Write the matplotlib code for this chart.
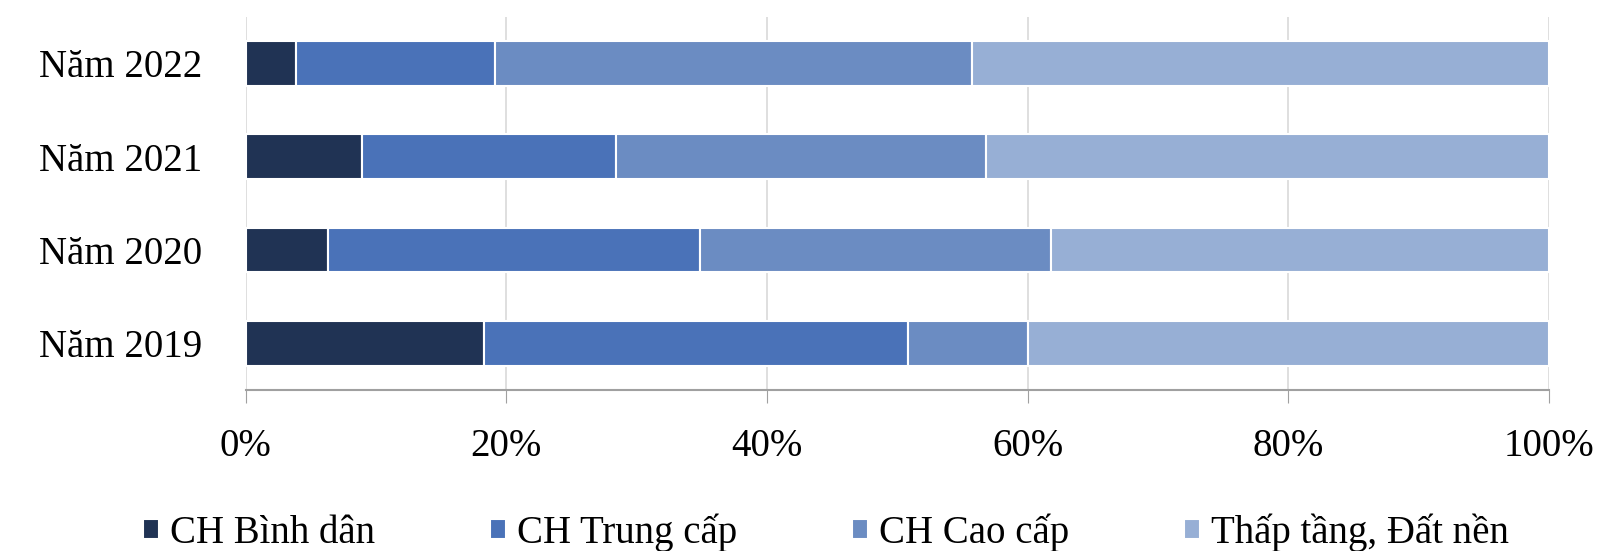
import matplotlib
matplotlib.use("Agg")
import matplotlib.pyplot as plt
import numpy as np

plt.rcParams['font.family'] = ['Liberation Serif', 'DejaVu Serif']

years = ["Năm 2019", "Năm 2020", "Năm 2021", "Năm 2022"]
series_names = ["CH Bình dân", "CH Trung cấp", "CH Cao cấp", "Thấp tầng, Đất nền"]
binh_dan = [18.3, 6.3, 8.9, 3.9]
trung_cap = [32.5, 28.6, 19.5, 15.2]
cao_cap = [9.2, 26.9, 28.4, 36.6]
thap_tang = [40.0, 38.2, 43.2, 44.3]
colors = ["#203354", "#4a72b8", "#6b8cc2", "#97afd5"]

fig = plt.figure(figsize=(15.98, 5.51), dpi=100)
ax = fig.add_axes([0.1537, 0.292, 0.8156, 0.678])

y = np.arange(len(years))
left = np.zeros(len(years))
for name, vals, c in zip(series_names, [binh_dan, trung_cap, cao_cap, thap_tang], colors):
    ax.barh(y, vals, left=left, height=0.48, color=c, edgecolor="white",
            linewidth=1.5, label=name, zorder=3)
    left += np.array(vals)

ax.set_xlim(0, 100)
ax.set_ylim(-0.5, 3.5)
ax.set_yticks(y)
ax.set_yticklabels(years, fontsize=28)
ax.set_xticks(np.arange(0, 101, 20))
ax.set_xticklabels([f"{v}%" for v in range(0, 101, 20)], fontsize=28)
ax.tick_params(axis='y', length=0, pad=31)
ax.tick_params(axis='x', length=9, color="#a0a0a0", pad=18, direction='out')
ax.grid(axis='x', color="#d9d9d9", linewidth=1.2, zorder=0)
for s in ["top", "right", "left"]:
    ax.spines[s].set_visible(False)
ax.spines["bottom"].set_color("#a0a0a0")
ax.spines["bottom"].set_linewidth(1.5)

handles, labels = ax.get_legend_handles_labels()
fig.legend(handles, labels, loc="center", bbox_to_anchor=(0.517, 0.033), ncol=4,
           frameon=False, fontsize=28, handlelength=0.4, handleheight=0.4,
           handletextpad=0.3, columnspacing=2.95)

fig.savefig("out.png", dpi=100)
